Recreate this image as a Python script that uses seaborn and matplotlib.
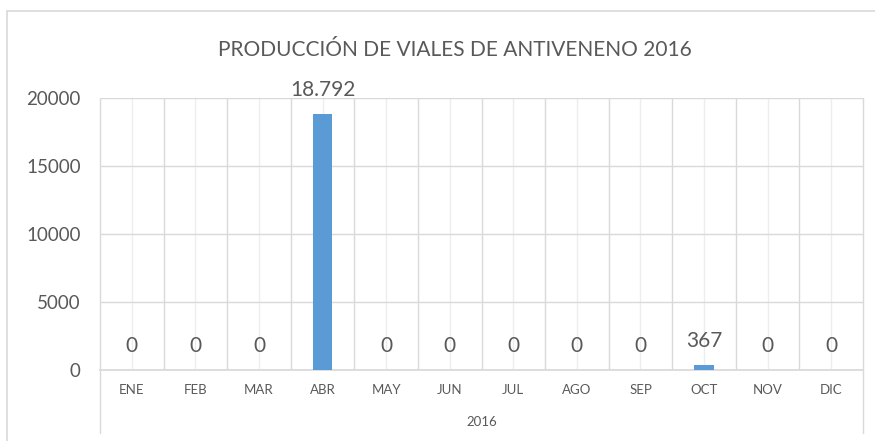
import pandas as pd
import matplotlib.pyplot as plt
import seaborn as sns
from matplotlib.lines import Line2D

months = ["ENE", "FEB", "MAR", "ABR", "MAY", "JUN", "JUL", "AGO", "SEP", "OCT", "NOV", "DIC"]
viales = [0, 0, 0, 18792, 0, 0, 0, 0, 0, 367, 0, 0]
year = "2016"
title = "PRODUCCIÓN DE VIALES DE ANTIVENENO 2016"

TXT = "#595959"
GRID = "#D9D9D9"
BAR = "#5B9BD5"


def label(v):
    return f"{v:,}".replace(",", ".")


def main():
    df = pd.DataFrame({"mes": months, "viales": viales})

    sns.set_theme(style="white")
    plt.rcParams["font.family"] = ["Lato", "DejaVu Sans"]

    fig = plt.figure(figsize=(8.75, 4.41), dpi=100)
    ax = fig.add_axes([0.1143, 0.161, 0.872, 0.617])

    sns.barplot(data=df, x="mes", y="viales", color=BAR, width=0.31,
                saturation=1, linewidth=0, ax=ax, zorder=3)

    ax.set_xlim(-0.5, len(months) - 0.5)
    ax.set_ylim(0, 20000)
    ax.set_yticks(range(0, 20001, 5000))

    # gridlines: horizontal + category boundaries + light lines at centers
    ax.set_xticks([i + 0.5 for i in range(len(months) - 1)], minor=True)
    ax.grid(axis="y", color=GRID, lw=1, zorder=0)
    ax.grid(axis="x", which="minor", color=GRID, lw=1, zorder=0)
    ax.grid(axis="x", which="major", color="#EDEDED", lw=1, zorder=0)
    ax.set_axisbelow(True)

    for s in ["top", "right", "left"]:
        ax.spines[s].set_visible(False)
    ax.spines["bottom"].set_color(GRID)

    ax.tick_params(axis="both", which="both", length=0)
    ax.tick_params(axis="y", labelsize=13.5, labelcolor=TXT, pad=14)
    ax.tick_params(axis="x", labelsize=9.5, labelcolor=TXT, pad=10)
    ax.set_xlabel("")
    ax.set_ylabel("")

    ax.bar_label(ax.containers[0], labels=[label(v) for v in viales],
                 padding=10, fontsize=15, color=TXT)

    # axis lines extending into the group label area
    for xa in (0, 1):
        ax.add_line(Line2D([xa, xa], [-0.23, 1], transform=ax.transAxes,
                           color=GRID, lw=1, clip_on=False))
    ax.text(0.5, -0.19, year, transform=ax.transAxes, ha="center",
            va="center", fontsize=9.5, color=TXT)

    fig.suptitle(title, x=0.52, y=0.91, fontsize=15, color=TXT)

    # chart frame (top and left edges visible)
    fig.add_artist(Line2D([0.008, 1], [0.975, 0.975], color=GRID, lw=1.2))
    fig.add_artist(Line2D([0.008, 0.008], [0, 0.975], color=GRID, lw=1.2))

    fig.savefig("out.png", dpi=100)


if __name__ == "__main__":
    main()
